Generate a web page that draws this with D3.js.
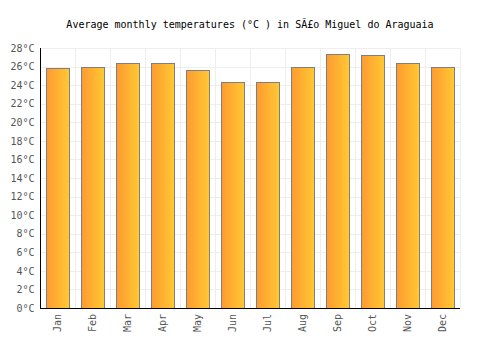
<!DOCTYPE html>
<meta charset="utf-8">
<style>
body { margin: 0; background: #fff; }
.grid line { stroke: #eee; shape-rendering: crispEdges; }
.axis text { font-family: "DejaVu Sans Mono", monospace; font-size: 10px; fill: #555; }
.axis path, .axis line { stroke: #000; shape-rendering: crispEdges; }
.title { font-family: "DejaVu Sans Mono", monospace; font-size: 10px; fill: #000; }
.bar { stroke: #7f7f7f; stroke-width: 1; }
</style>
<div id="chart"></div>
<script src="https://d3js.org/d3.v7.min.js"></script>
<script>
var months = ["Jan", "Feb", "Mar", "Apr", "May", "Jun", "Jul", "Aug", "Sep", "Oct", "Nov", "Dec"];
var temps = [25.9, 26.0, 26.4, 26.4, 25.6, 24.3, 24.3, 26.0, 27.4, 27.2, 26.4, 26.0];
var yTicks = [0, 2, 4, 6, 8, 10, 12, 14, 16, 18, 20, 22, 24, 26, 28];

var w = 500, h = 350,
    padLeft = 40, padRight = 460, padTop = 48, padBottom = 308;

var svg = d3.select("#chart").append("svg")
  .attr("width", w)
  .attr("height", h);

var grad = svg.append("defs").append("linearGradient")
  .attr("id", "barfill")
  .attr("x1", "0%").attr("x2", "100%").attr("y1", "0%").attr("y2", "0%");
grad.append("stop").attr("offset", "0%").attr("stop-color", "#ff9a30");
grad.append("stop").attr("offset", "100%").attr("stop-color", "#ffc933");

var x = d3.scaleBand().domain(months).range([padLeft, padRight]).paddingInner(0.34).paddingOuter(0.17),
    xg = d3.scaleBand().domain(months).range([padLeft, padRight]),
    y = d3.scaleLinear().domain([0, 28]).range([padBottom, padTop]);

// grid
var grid = svg.append("g").attr("class", "grid");
grid.selectAll(".hg")
  .data(yTicks)
  .enter().append("line")
  .attr("x1", padLeft).attr("x2", padRight)
  .attr("y1", function (d) { return Math.round(y(d)) + 0.5; })
  .attr("y2", function (d) { return Math.round(y(d)) + 0.5; });
grid.selectAll(".vg")
  .data(months)
  .enter().append("line")
  .attr("x1", function (d) { return Math.round(xg(d) + xg.bandwidth()) + 0.5; })
  .attr("x2", function (d) { return Math.round(xg(d) + xg.bandwidth()) + 0.5; })
  .attr("y1", padTop).attr("y2", padBottom);

svg.selectAll(".bar")
  .data(temps)
  .enter().append("rect")
  .attr("class", "bar")
  .attr("fill", "url(#barfill)")
  .attr("x", function (d, i) { return Math.round(x(months[i])) + 0.5; })
  .attr("width", Math.round(x.bandwidth()))
  .attr("y", function (d) { return Math.round(y(d)) + 0.5; })
  .attr("height", function (d) { return padBottom - Math.round(y(d)); });

var xAxis = d3.axisBottom(xg).tickSize(0).tickPadding(0);
svg.append("g")
  .attr("class", "axis")
  .attr("transform", "translate(0," + padBottom + ")")
  .call(xAxis)
  .call(function (g) { g.select(".domain").attr("d", "M" + padLeft + ",0.5H" + padRight); })
  .selectAll("text")
  .attr("transform", "rotate(-90)")
  .attr("text-anchor", "end")
  .attr("x", -6)
  .attr("y", 0)
  .attr("dy", "0.35em");

var yAxis = d3.axisLeft(y).tickValues(yTicks).tickSize(0).tickPadding(6)
  .tickFormat(function (d) { return d + "°C"; });
svg.append("g")
  .attr("class", "axis")
  .attr("transform", "translate(" + (padLeft + 0.5) + ",0)")
  .call(yAxis)
  .call(function (g) { g.select(".domain").attr("d", "M0," + padTop + "V" + padBottom); });

svg.append("text")
  .attr("class", "title")
  .attr("x", w / 2)
  .attr("y", 28)
  .attr("text-anchor", "middle")
  .text("Average monthly temperatures (°C ) in SÃ£o Miguel do Araguaia");
</script>
